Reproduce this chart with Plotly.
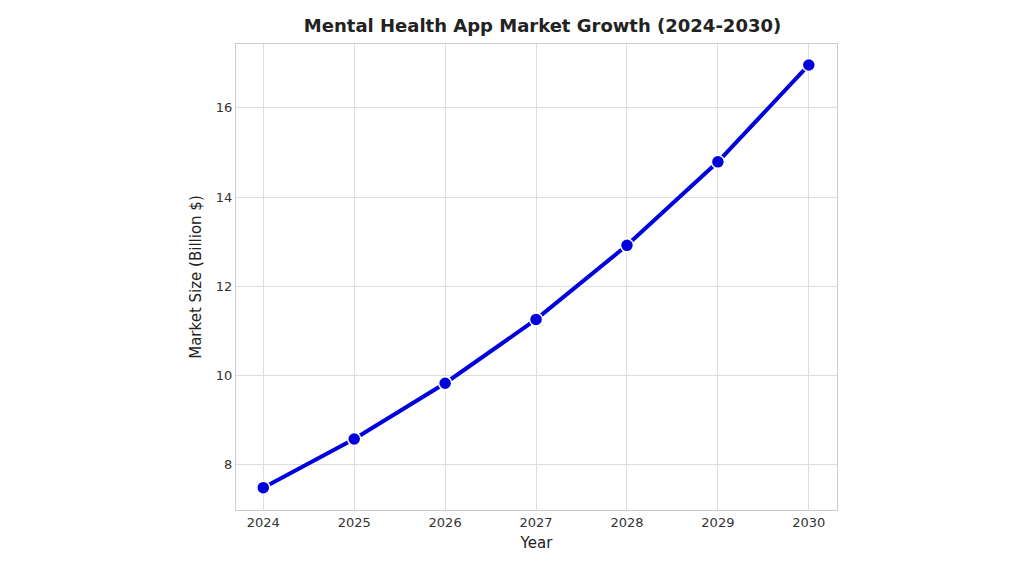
import plotly.graph_objects as go

years = [2024, 2025, 2026, 2027, 2028, 2029, 2030]
market_size = [7.49, 8.58, 9.83, 11.26, 12.92, 14.79, 16.96]

fig = go.Figure(go.Scatter(
    x=years, y=market_size, mode="lines+markers",
    line=dict(color="#0000dd", width=4),
    marker=dict(size=13, color="#0000dd", line=dict(color="white", width=1.5)),
))
axis_common = dict(showgrid=True, gridcolor="#dddddd", showline=True, linecolor="#cccccc",
                   mirror=True, zeroline=False, ticks="", tickfont=dict(size=13, color="#333"))
fig.update_layout(
    width=1024, height=576, paper_bgcolor="white", plot_bgcolor="white",
    font=dict(family="DejaVu Sans", color="#222"),
    title=dict(text="<b>Mental Health App Market Growth (2024-2030)</b>", x=0.522, y=0.98,
               xanchor="center", font=dict(size=18, color="#222")),
    margin=dict(l=228, r=195, t=36, b=74),
    showlegend=False,
    xaxis=dict(title=dict(text="Year", font=dict(size=15), standoff=8), range=[2023.70, 2030.31],
               tickvals=years, **axis_common),
    yaxis=dict(title=dict(text="Market Size (Billion $)", font=dict(size=15), standoff=10),
               range=[6.99, 17.43], tickvals=[8, 10, 12, 14, 16], **axis_common),
)
fig.write_html("out.html")
